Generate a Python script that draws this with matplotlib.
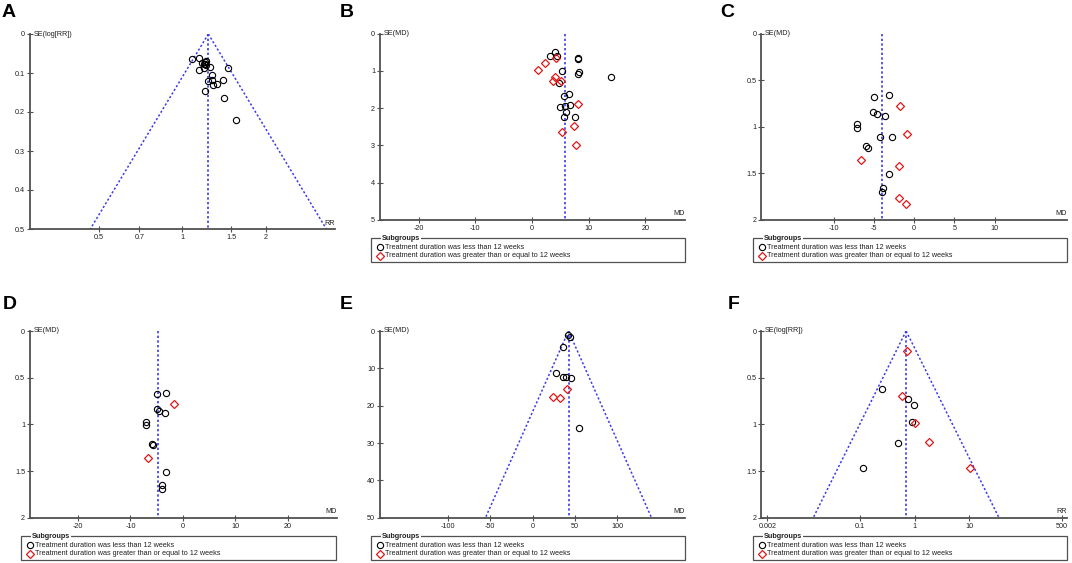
import numpy as np
import matplotlib
matplotlib.use('Agg')
import matplotlib.pyplot as plt
from matplotlib.patches import Rectangle
from matplotlib.ticker import FixedLocator, NullLocator, FixedFormatter

W, H = 1072, 563
plt.rcParams['font.family'] = ['Liberation Sans', 'DejaVu Sans']

# ---------------- data ----------------
legend_labels = ["Treatment duration was less than 12 weeks",
                 "Treatment duration was greater than or equal to 12 weeks"]

# Panel A (RR, log scale) - all circles
a_rr = [1.087, 1.146, 1.214, 1.174, 1.204, 1.22, 1.255, 1.194, 1.152, 1.466,
        1.283, 1.276, 1.241, 1.334, 1.29, 1.402, 1.207, 1.414, 1.554, 1.2, 1.21]
a_se = [0.063, 0.062, 0.069, 0.074, 0.076, 0.080, 0.085, 0.088, 0.092, 0.087,
        0.104, 0.118, 0.121, 0.128, 0.132, 0.118, 0.145, 0.164, 0.220, 0.078, 0.071]
a_pooled = 1.24

# Panel B (MD)
b_md_lt = [4.06, 3.12, 4.47, 8.18, 8.2, 5.24, 8.35, 8.2, 13.9, 4.76,
           6.6, 5.7, 5.0, 5.8, 6.7, 6.0, 5.6, 7.6]
b_se_lt = [0.50, 0.61, 0.59, 0.65, 0.67, 1.00, 1.03, 1.08, 1.16, 1.33,
           1.61, 1.68, 1.96, 1.94, 1.92, 2.10, 2.23, 2.24]
b_md_ge = [4.3, 2.24, 1.12, 4.06, 3.65, 5.1, 8.1, 7.4, 5.35, 7.7]
b_se_ge = [0.64, 0.80, 0.97, 1.16, 1.28, 1.27, 1.90, 2.47, 2.63, 2.99]
b_pooled = 5.82

# Panel C (MD)
c_md_lt = [-3.11, -4.94, -5.06, -4.56, -3.61, -7.14, -7.1, -4.23, -2.74,
           -5.98, -5.77, -3.15, -3.9, -3.98]
c_se_lt = [0.656, 0.677, 0.842, 0.86, 0.88, 0.97, 1.01, 1.115, 1.11,
           1.21, 1.23, 1.51, 1.656, 1.70]
c_md_ge = [-1.70, -0.95, -6.6, -1.9, -1.87, -1.0]
c_se_ge = [0.78, 1.08, 1.36, 1.42, 1.77, 1.83]
c_pooled = -3.98

# Panel D (MD)
d_md_lt = [-3.18, -4.97, -4.97, -4.46, -3.5, -7.13, -7.07, -5.8, -5.67,
           -3.18, -3.9, -4.0]
d_se_lt = [0.66, 0.675, 0.84, 0.86, 0.88, 0.97, 1.01, 1.21, 1.225,
           1.51, 1.65, 1.69]
d_md_ge = [-1.72, -6.6]
d_se_ge = [0.78, 1.36]
d_pooled = -4.65

# Panel E (MD)
e_md_lt = [42.1, 43.7, 35.8, 27.6, 36.2, 39.8, 44.9, 54.3]
e_se_lt = [1.16, 1.7, 4.3, 11.3, 12.3, 12.3, 12.5, 25.9]
e_md_ge = [40.6, 24.0, 32.3]
e_se_ge = [15.6, 17.6, 17.9]
e_pooled = 42.5

# Panel F (RR, log scale)
f_rr_lt = [0.248, 0.755, 0.96, 0.893, 0.50, 0.113]
f_se_lt = [0.621, 0.729, 0.796, 0.975, 1.204, 1.464]
f_rr_ge = [0.713, 0.586, 1.0, 1.86, 10.5]
f_se_ge = [0.214, 0.693, 0.982, 1.186, 1.464]
f_pooled = 0.70

# ticks
a_xticks = [0.5, 0.7, 1, 1.5, 2]
a_xlabels = ["0.5", "0.7", "1", "1.5", "2"]
a_yticks = [0, 0.1, 0.2, 0.3, 0.4, 0.5]
a_ylabels = ["0", "0.1", "0.2", "0.3", "0.4", "0.5"]
b_xticks = [-20, -10, 0, 10, 20]
b_yticks = [0, 1, 2, 3, 4, 5]
c_xticks = [-10, -5, 0, 5, 10]
c_yticks = [0, 0.5, 1, 1.5, 2]
cd_ylabels = ["0", "0.5", "1", "1.5", "2"]
d_xticks = [-20, -10, 0, 10, 20]
e_xticks = [-100, -50, 0, 50, 100]
e_yticks = [0, 10, 20, 30, 40, 50]
f_xticks = [0.002, 0.1, 1, 10, 500]
f_xlabels = ["0.002", "0.1", "1", "10", "500"]

# ---------------- style ----------------
AX_COL = '#505050'
BLUE = '#3a3aee'
RED = '#e01818'
FS = 5.2
MS = 4.5
DOT = (0, (1.4, 1.4))

fig = plt.figure(figsize=(W / 100, H / 100), dpi=100)


def make_axes(px):
    x0, y0, x1, y1 = px
    ax = fig.add_axes([x0 / W, 1 - y1 / H, (x1 - x0) / W, (y1 - y0) / H])
    for s in ('top', 'right'):
        ax.spines[s].set_visible(False)
    for s in ('left', 'bottom'):
        ax.spines[s].set_color(AX_COL)
        ax.spines[s].set_linewidth(1.3)
    ax.tick_params(direction='inout', length=4, width=0.8, colors=AX_COL,
                   labelcolor='#202020', labelsize=FS, pad=1.5)
    ax.patch.set_alpha(0)
    return ax


def finish(ax, ylabel, xlabel, ymax, yticks, ylabels, xticks, xlabels):
    ax.set_ylim(ymax, 0)
    ax.yaxis.set_major_locator(FixedLocator(yticks))
    ax.yaxis.set_major_formatter(FixedFormatter(ylabels))
    ax.xaxis.set_major_locator(FixedLocator(xticks))
    ax.xaxis.set_major_formatter(FixedFormatter(xlabels))
    ax.xaxis.set_minor_locator(NullLocator())
    ax.yaxis.set_minor_locator(NullLocator())
    ax.text(0.012, 1.0, ylabel, transform=ax.transAxes, fontsize=FS,
            ha='left', va='center', color='#202020')
    ax.text(1.0, 0.012, xlabel, transform=ax.transAxes, fontsize=FS,
            ha='right', va='bottom', color='#202020')


def vline(ax, x, ymax):
    ax.plot([x, x], [0, ymax], color=BLUE, lw=1.2, ls=DOT, zorder=2)


def funnel(ax, c, ymax, log=False):
    se = np.array([0.0, ymax])
    if log:
        lc = np.log(c)
        left = np.exp(lc - 1.96 * se)
        right = np.exp(lc + 1.96 * se)
    else:
        left = c - 1.96 * se
        right = c + 1.96 * se
    ax.plot(left, se, color=BLUE, lw=1.1, ls=DOT, zorder=2)
    ax.plot(right, se, color=BLUE, lw=1.1, ls=DOT, zorder=2)


def circles(ax, x, y):
    ax.plot(x, y, ls='none', marker='o', ms=MS, mfc='none', mec='black',
            mew=0.8, zorder=3)


def diamonds(ax, x, y):
    ax.plot(x, y, ls='none', marker='D', ms=MS * 0.85, mfc='none', mec=RED,
            mew=0.9, zorder=3)


def legend_box(px):
    x0, y0, x1, y1 = px
    lax = fig.add_axes([x0 / W, 1 - y1 / H, (x1 - x0) / W, (y1 - y0) / H])
    lax.set_xlim(0, 1)
    lax.set_ylim(0, 1)
    lax.axis('off')
    lax.add_patch(Rectangle((0, 0), 1, 1, fill=False, ec=AX_COL, lw=0.9,
                            transform=lax.transAxes, clip_on=False))
    lax.text(0.034, 1.0, 'Subgroups', fontsize=FS, fontweight='bold',
             ha='left', va='center', color='#202020',
             bbox=dict(fc='white', ec='none', pad=0.6))
    lax.plot([0.029], [0.62], marker='o', ms=MS, mfc='none', mec='black',
             mew=0.8, clip_on=False)
    lax.plot([0.029], [0.26], marker='D', ms=MS * 0.85, mfc='none', mec=RED,
             mew=0.9, clip_on=False)
    lax.text(0.045, 0.62, legend_labels[0], fontsize=FS, ha='left',
             va='center', color='#202020')
    lax.text(0.045, 0.26, legend_labels[1], fontsize=FS, ha='left',
             va='center', color='#202020')


def letter(ch, x, y):
    fig.text(x / W, 1 - y / H, ch, fontsize=14, fontweight='bold',
             ha='left', va='top', color='black')


# ---- A ----
ax = make_axes((30, 34, 335, 229))
ax.set_xscale('log')
ax.set_xlim(0.282, 3.55)
funnel(ax, a_pooled, 0.5, log=True)
vline(ax, a_pooled, 0.5)
circles(ax, a_rr, a_se)
finish(ax, 'SE(log[RR])', 'RR', 0.5, a_yticks, a_ylabels, a_xticks, a_xlabels)

# ---- B ----
ax = make_axes((380, 33.7, 685, 219.7))
ax.set_xlim(-26.8, 27.0)
vline(ax, b_pooled, 5)
circles(ax, b_md_lt, b_se_lt)
diamonds(ax, b_md_ge, b_se_ge)
finish(ax, 'SE(MD)', 'MD', 5, b_yticks, [str(v) for v in b_yticks],
       b_xticks, [str(v) for v in b_xticks])
legend_box((371, 238, 685, 262))

# ---- C ----
ax = make_axes((761.3, 33.7, 1067, 219.7))
ax.set_xlim(-19.0, 19.0)
vline(ax, c_pooled, 2)
circles(ax, c_md_lt, c_se_lt)
diamonds(ax, c_md_ge, c_se_ge)
finish(ax, 'SE(MD)', 'MD', 2, c_yticks, cd_ylabels,
       c_xticks, [str(v) for v in c_xticks])
legend_box((752.7, 238, 1067, 262))

# ---- D ----
ax = make_axes((30, 331, 336.7, 517.7))
ax.set_xlim(-29.2, 29.4)
vline(ax, d_pooled, 2)
circles(ax, d_md_lt, d_se_lt)
diamonds(ax, d_md_ge, d_se_ge)
finish(ax, 'SE(MD)', 'MD', 2, c_yticks, cd_ylabels,
       d_xticks, [str(v) for v in d_xticks])
legend_box((21, 536, 336, 560))

# ---- E ----
ax = make_axes((380, 331, 685, 517.7))
ax.set_xlim(-180, 180)
funnel(ax, e_pooled, 50)
vline(ax, e_pooled, 50)
circles(ax, e_md_lt, e_se_lt)
diamonds(ax, e_md_ge, e_se_ge)
finish(ax, 'SE(MD)', 'MD', 50, e_yticks, [str(v) for v in e_yticks],
       e_xticks, [str(v) for v in e_xticks])
legend_box((371, 536, 685, 560))

# ---- F ----
ax = make_axes((761.3, 331, 1067, 517.7))
ax.set_xscale('log')
ax.set_xlim(10 ** -2.81, 10 ** 2.795)
funnel(ax, f_pooled, 2, log=True)
vline(ax, f_pooled, 2)
circles(ax, f_rr_lt, f_se_lt)
diamonds(ax, f_rr_ge, f_se_ge)
finish(ax, 'SE(log[RR])', 'RR', 2, c_yticks, cd_ylabels, f_xticks, f_xlabels)
legend_box((752.7, 536, 1067, 560))

letter('A', 2, 4)
letter('B', 340, 4)
letter('C', 720, 4)
letter('D', 3, 296)
letter('E', 340, 296)
letter('F', 728, 296)

fig.savefig('out.png', dpi=100, facecolor='white')
